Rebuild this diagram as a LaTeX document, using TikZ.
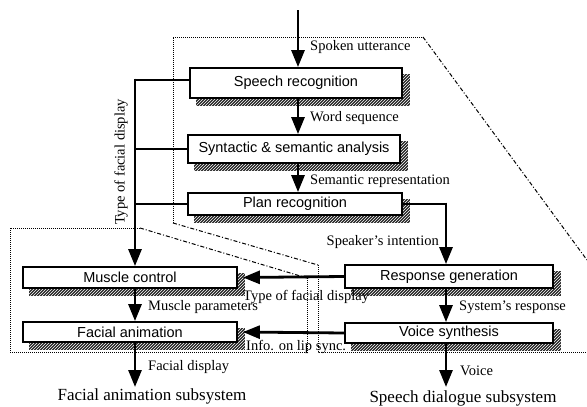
\documentclass[tikz,border=0pt]{standalone}
\usepackage{fontspec}
\setmainfont{Liberation Serif}
\newfontfamily\boxfont{Liberation Sans}
\usetikzlibrary{arrows.meta,patterns,calc,backgrounds}
\tikzset{
  procbox/.style={draw, line width=1.8pt, fill=white, inner sep=0pt,
    font=\boxfont\fontsize{14.5}{16}\selectfont},
  arr/.style={line width=2.8pt, -{Triangle[length=17pt,width=13pt]}},
  busline/.style={line width=2.8pt},
  lbl/.style={font=\fontsize{14.5}{16}\selectfont, inner sep=0pt},
  title/.style={font=\fontsize{17}{19}\selectfont, inner sep=0pt},
  region/.style={line width=1pt, densely dotted},
  regiondash/.style={line width=1pt, dash pattern=on 4pt off 2pt on 1pt off 2pt},
  shadowfill/.style={fill=black!85, postaction={pattern=north east lines, pattern color=white}}
}
\newcommand\boxshadow[1]{%
  \fill[shadowfill] ($(#1.north east)+(0,7)$) -- ($(#1.north east)+(7,7)$)
    -- ($(#1.south east)+(7,7)$) -- ($(#1.south west)+(7,7)$)
    -- ($(#1.south west)+(7,0)$) -- (#1.south east) -- cycle;}
\begin{document}
\begin{tikzpicture}[x=1pt,y=-1pt]
\useasboundingbox (0,0) rectangle (587,407);

% boxes
\node[procbox, minimum width=212pt, minimum height=30pt] (sr) at (296,83) {Speech recognition};
\node[procbox, minimum width=212pt, minimum height=28pt] (syn) at (294,149) {Syntactic \& semantic analysis};
\node[procbox, minimum width=214pt, minimum height=22pt] (plan) at (295,204) {Plan recognition};
\node[procbox, minimum width=214pt, minimum height=21pt] (mc) at (130,277.5) {Muscle control};
\node[procbox, minimum width=214pt, minimum height=20pt] (fa) at (130,332) {Facial animation};
\node[procbox, minimum width=208pt, minimum height=23pt] (rg) at (449,276.5) {Response generation};
\node[procbox, minimum width=208pt, minimum height=20pt] (vs) at (449,333) {Voice synthesis};

\begin{scope}[on background layer]
  \boxshadow{sr}\boxshadow{syn}\boxshadow{plan}
  \boxshadow{mc}\boxshadow{fa}\boxshadow{rg}\boxshadow{vs}
  % speech dialogue subsystem region
  \draw[region] (173,223) -- (173,37) -- (423,37);
  \draw[regiondash] (423,37) -- (587,260);
  \draw[regiondash] (173,223) -- (318,265);
  \draw[region] (318,265) -- (318,352) -- (587,352);
  % facial animation subsystem region
  \draw[region] (140,228) -- (10,228) -- (10,352) -- (307,352) -- (307,278);
  \draw[regiondash] (140,228) -- (307,278);
\end{scope}

% coordinates
\coordinate (in) at (298,10);
\coordinate (bus) at (135,80);
\coordinate (vout) at (446,387);
\coordinate (fout) at (135,387);
\coordinate (rgin) at (446,204);

% speech chain
\draw[arr] (in) -- (in |- sr.north);
\draw[arr] (in |- sr.south) -- (in |- syn.north);
\draw[arr] (in |- syn.south) -- (in |- plan.north);
\draw[busline] (plan.east) -- (rgin);
\draw[arr] ([yshift=1.4pt]rgin) -- (rgin |- rg.north);
\draw[arr] (rgin |- rg.south) -- (rgin |- vs.north);
\draw[arr] (vout |- vs.south) -- (vout);

% facial chain
\draw[busline] (sr.west |- bus) -- (bus);
\draw[busline] (syn.west) -- (syn.west -| bus);
\draw[busline] (plan.west) -- (plan.west -| bus);
\draw[arr] ([yshift=1.4pt]bus) -- (bus |- mc.north);
\draw[arr] (bus |- mc.south) -- (bus |- fa.north);
\draw[arr] (fout |- fa.south) -- (fout);
\draw[arr] (rg.west) -- ([xshift=5pt]mc.east);
\draw[arr] (vs.west) -- ([xshift=5pt]fa.east);

% labels
\node[lbl, anchor=west] (l1) at (310,47) {Spoken utterance};
\node[lbl, anchor=west] (l2) at (310,118) {Word sequence};
\node[lbl, anchor=west] (l3) at (310,181) {Semantic representation};
\node[lbl, anchor=east] (l4) at (439,242) {Speaker's intention};
\node[lbl, anchor=west] (l5) at (459,307) {System's response};
\node[lbl, anchor=west] (l6) at (460,371) {Voice};
\node[lbl, anchor=west] (l7) at (148,307) {Muscle parameters};
\node[lbl, anchor=west] (l8) at (148,367) {Facial display};
\node[lbl, anchor=west] (l9) at (243,297) {Type of facial display};
\node[lbl, anchor=west] (l10) at (246,347) {Info. on lip sync.};
\node[lbl, rotate=90] (l11) at (121,162) {Type of facial display};
\node[title] (t1) at (152,396) {Facial animation subsystem};
\node[title] (t2) at (463,398) {Speech dialogue subsystem};
\end{tikzpicture}
\end{document}
